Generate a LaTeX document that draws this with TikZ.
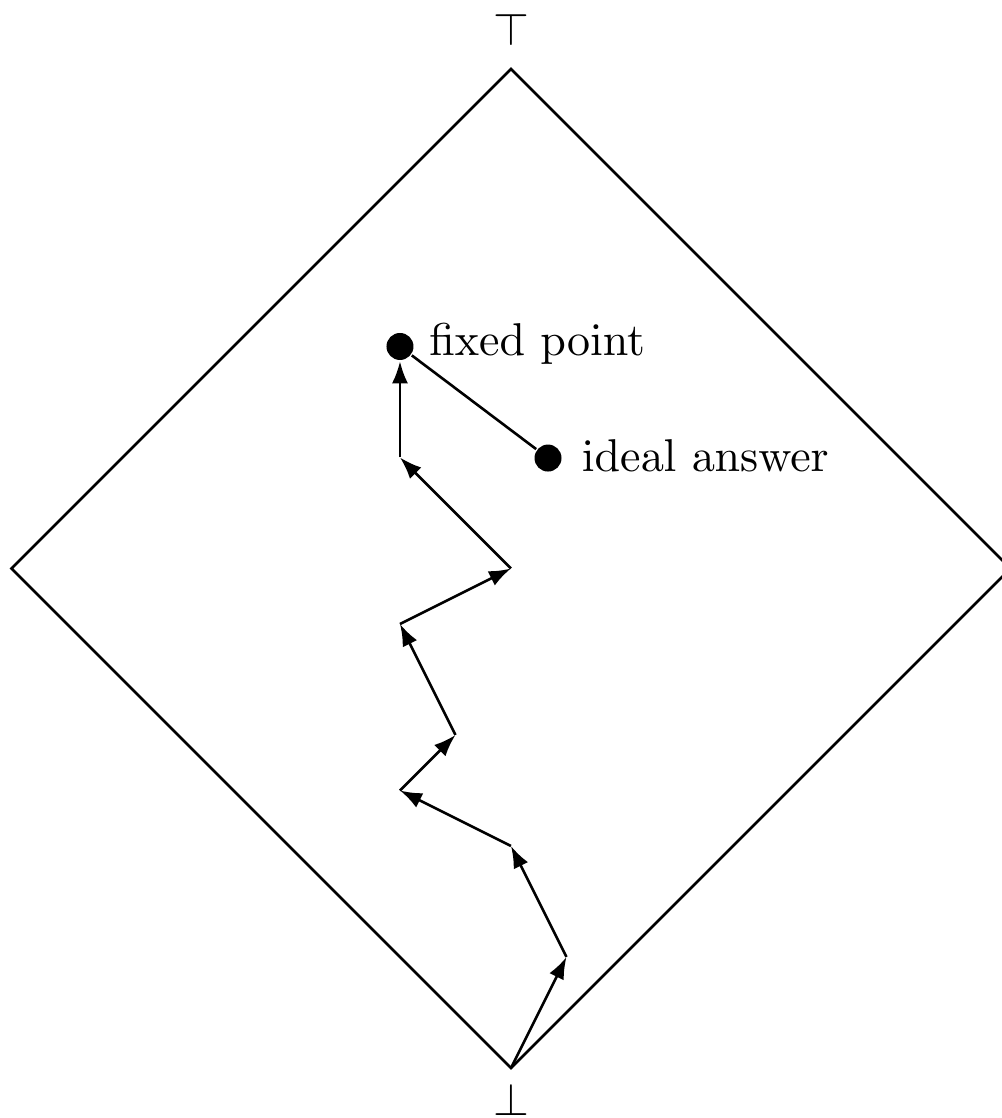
\documentclass[tikz,border=0pt]{standalone}
\usetikzlibrary{arrows.meta}
\font\lblfont=cmr10 at 46pt
\font\symfont=cmsy10 at 46pt
\begin{document}
\begin{tikzpicture}[x=55.5pt,y=55.5pt,
  every path/.style={line width=2.6pt, line join=miter},
  stepline/.style={-{Latex[length=22pt,width=16pt]}},
  dot/.style={circle, fill=black, inner sep=0pt, minimum size=27pt},
  lbl/.style={font=\lblfont, anchor=base west, inner sep=0pt},
  sym/.style={font=\symfont, anchor=base, inner sep=0pt}]
\useasboundingbox (-9.207,-0.901) rectangle (8.847,19.243);
% lattice
\coordinate (bot) at (0,0);
\coordinate (top) at (0,18);
\coordinate (lft) at (-9,9);
\coordinate (rgt) at (9,9);
\draw (bot) -- (rgt) -- (top) -- (lft) -- cycle;
\node[sym] (topsym) at (0,18.43) {\char"3E};
\node[sym] (botsym) at (0,-0.86) {\char"3F};
% iteration path
\coordinate (p1) at (1,2);
\coordinate (p2) at (0,4);
\coordinate (p3) at (-2,5);
\coordinate (p4) at (-1,6);
\coordinate (p5) at (-2,8);
\coordinate (p6) at (0,9);
\coordinate (p7) at (-2,11);
\node[dot] (fix) at (-2,13) {};
\node[dot] (ideal) at (0.667,10.99) {};
\draw[stepline] (bot) -- (p1);
\draw[stepline] (p1) -- (p2);
\draw[stepline] (p2) -- (p3);
\draw[stepline] (p3) -- (p4);
\draw[stepline] (p4) -- (p5);
\draw[stepline] (p5) -- (p6);
\draw[stepline] (p6) -- (p7);
\draw[stepline] (p7) -- (fix);
\draw (fix) -- (ideal);
\node[lbl] (fixlbl) at (-1.495,12.829) {fixed point};
\node[lbl] (ideallbl) at (1.254,10.739) {ideal answer};
\end{tikzpicture}
\end{document}
